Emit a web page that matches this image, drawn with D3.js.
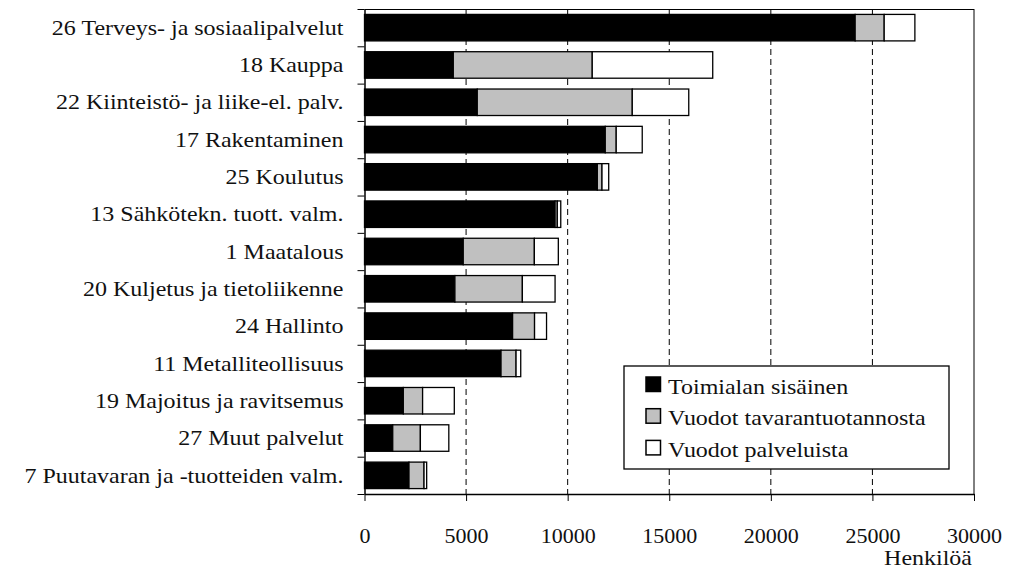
<!DOCTYPE html>
<html>
<head>
<meta charset="utf-8">
<script src="https://cdn.jsdelivr.net/npm/d3@7"></script>
<style>
  html, body { margin: 0; padding: 0; background: #fff; }
</style>
</head>
<body>
<svg id="chart" width="1012" height="569" font-family="Liberation Serif, serif"></svg>
<script>
const categories = [
  "26 Terveys- ja sosiaalipalvelut",
  "18 Kauppa",
  "22 Kiinteistö- ja liike-el. palv.",
  "17 Rakentaminen",
  "25 Koulutus",
  "13 Sähkötekn. tuott. valm.",
  "1 Maatalous",
  "20 Kuljetus ja tietoliikenne",
  "24 Hallinto",
  "11 Metalliteollisuus",
  "19 Majoitus ja ravitsemus",
  "27 Muut palvelut",
  "7 Puutavaran ja -tuotteiden valm."
];
const sisainen = [24150, 4370, 5550, 11850, 11460, 9380, 4860, 4450, 7290, 6720, 1910, 1390, 2190];
const tavara   = [1430, 6840, 7630, 540, 230, 110, 3500, 3320, 1080, 740, 950, 1360, 740];
const palvelu  = [1510, 5930, 2780, 1280, 330, 170, 1180, 1610, 590, 230, 1560, 1400, 130];
const seriesNames = ["Toimialan sisäinen", "Vuodot tavarantuotannosta", "Vuodot palveluista"];
const seriesColors = ["#000000", "#c0c0c0", "#ffffff"];
const xTicks = [0, 5000, 10000, 15000, 20000, 25000, 30000];
const xTitle = "Henkilöä";

const FONT = "Liberation Serif, serif";
const svg = d3.select("#chart");
const pL = 364.5, pR = 974, pT = 9, pB = 494;
const SX = 1.2;

const x = d3.scaleLinear().domain([0, 30000]).range([pL, pR]);
const y = d3.scaleBand().domain(categories).range([pT, pB]).paddingInner(0.29).paddingOuter(0.145);
const yIdx = d3.scaleLinear().domain([0, categories.length]).range([pT, pB]);

// gridlines
svg.append("g").selectAll("line")
  .data(xTicks.filter(d => d > 0 && d < 30000))
  .join("line")
  .attr("x1", d => x(d)).attr("x2", d => x(d))
  .attr("y1", pT).attr("y2", pB)
  .attr("stroke", "#000").attr("stroke-width", 1)
  .attr("stroke-dasharray", "6,4");

// frame top and right
svg.append("line").attr("x1", pL).attr("x2", pR).attr("y1", pT + 0.5).attr("y2", pT + 0.5)
  .attr("stroke", "#000").attr("stroke-width", 1);
svg.append("line").attr("x1", pR).attr("x2", pR).attr("y1", pT).attr("y2", pB)
  .attr("stroke", "#000").attr("stroke-width", 1);

// stacked bars
const rows = categories.map((c, i) => ({ cat: c, s0: sisainen[i], s1: tavara[i], s2: palvelu[i] }));
const stacked = d3.stack().keys(["s0", "s1", "s2"])(rows);
svg.append("g").selectAll("g")
  .data(stacked)
  .join("g")
  .attr("fill", (d, i) => seriesColors[i])
  .selectAll("rect")
  .data(d => d)
  .join("rect")
  .attr("x", d => x(d[0]))
  .attr("width", d => Math.max(0, x(d[1]) - x(d[0])))
  .attr("y", d => y(d.data.cat))
  .attr("height", y.bandwidth())
  .attr("stroke", "#000")
  .attr("stroke-width", 1.3);

// left axis: boundary ticks
const yTickAxis = d3.axisLeft(yIdx).tickValues(d3.range(categories.length + 1)).tickFormat("").tickSize(7).tickSizeOuter(0);
svg.append("g").attr("transform", `translate(${pL},0)`).call(yTickAxis)
  .call(g => g.select(".domain").attr("stroke-width", 1.5))
  .call(g => g.selectAll(".tick line").attr("stroke-width", 1));

// left labels
const yLabAxis = d3.axisLeft(y).tickSize(0).tickPadding(0);
svg.append("g").attr("transform", `translate(${pL},0)`).call(yLabAxis)
  .call(g => g.select(".domain").remove())
  .call(g => g.attr("font-family", FONT).attr("font-size", 20))
  .call(g => g.selectAll(".tick text")
    .attr("x", -21 / SX)
    .attr("dy", "0.36em")
    .attr("transform", `scale(${SX},1)`)
    .attr("font-family", FONT)
    .attr("font-size", 20)
    .attr("fill", "#111"));

// bottom axis
const xAxis = d3.axisBottom(x).tickValues(xTicks).tickFormat(d3.format("d")).tickSize(7).tickSizeOuter(0);
svg.append("g").attr("transform", `translate(0,${pB})`).call(xAxis)
  .call(g => g.attr("font-family", FONT).attr("font-size", 20))
  .call(g => g.select(".domain").attr("stroke-width", 1.3))
  .call(g => g.selectAll(".tick text")
    .attr("y", 49).attr("dy", 0)
    .attr("transform", "scale(1.1,1)")
    .attr("font-family", FONT)
    .attr("font-size", 20)
    .attr("fill", "#111"));

// axis title
svg.append("text")
  .attr("transform", `translate(972,565) scale(${SX},1)`)
  .attr("text-anchor", "end")
  .attr("font-family", FONT)
  .attr("font-size", 20)
  .attr("fill", "#111")
  .text(xTitle);

// legend
const lg = svg.append("g");
lg.append("rect").attr("x", 624).attr("y", 366).attr("width", 325).attr("height", 103)
  .attr("fill", "#fff").attr("stroke", "#000").attr("stroke-width", 1.3);
const items = lg.selectAll("g.item").data(seriesNames).join("g").attr("class", "item")
  .attr("transform", (d, i) => `translate(646,${377 + i * 31.7})`);
items.append("rect").attr("width", 14.5).attr("height", 14.5)
  .attr("fill", (d, i) => seriesColors[i]).attr("stroke", "#000").attr("stroke-width", 1.5);
items.append("text")
  .attr("transform", `translate(22,16.5) scale(${SX},1)`)
  .attr("font-family", FONT)
  .attr("font-size", 20)
  .attr("fill", "#111")
  .text(d => d);
</script>
</body>
</html>
